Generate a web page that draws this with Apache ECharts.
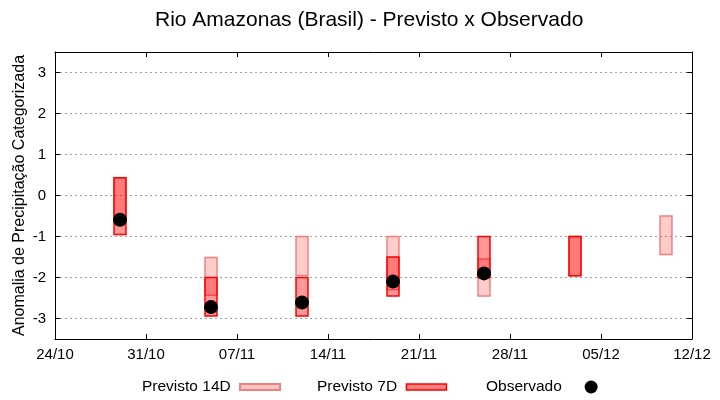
<!DOCTYPE html>
<html><head><meta charset="utf-8">
<script src="https://cdn.jsdelivr.net/npm/echarts@6/dist/echarts.min.js"></script>
<style>html,body{margin:0;padding:0;background:#fff}#c{width:720px;height:400px}</style>
</head><body><div id="c"></div>
<script>
const xTickLabels = ['24/10','31/10','07/11','14/11','21/11','28/11','05/12','12/12'];
const dates14 = ['29/10','05/11','12/11','19/11','26/11','03/12','10/12'];
const low14  = [-0.65, -2.43, -1.95, -2.30, -2.45, -1.96, -1.44];
const high14 = [ 0.43, -1.51, -1.00, -1.00, -1.55, -1.00, -0.50];
const dates7 = ['29/10','05/11','12/11','19/11','26/11','03/12'];
const low7   = [-0.95, -2.94, -2.94, -2.45, -2.00, -1.96];
const high7  = [ 0.43, -2.00, -2.00, -1.50, -1.00, -1.00];
const datesObs = ['29/10','05/11','12/11','19/11','26/11'];
const obs      = [-0.59, -2.72, -2.61, -2.10, -1.90];

const FONT = 'Liberation Sans, Arial, sans-serif';
function dayOf(s){
  const [d,m] = s.split('/').map(Number);
  return Math.round((Date.UTC(2023, m-1, d) - Date.UTC(2023, 9, 24)) / 86400000);
}
function boxRender(fill, stroke){
  return function(params, api){
    const x = api.value(0), lo = api.value(1), hi = api.value(2);
    const p1 = api.coord([x, hi]);
    const p2 = api.coord([x, lo]);
    const w = api.size([0.92, 0])[0];
    return {type:'rect', shape:{x:p1[0]-w/2, y:p1[1], width:w, height:p2[1]-p1[1]},
            style:{fill:fill, stroke:stroke, lineWidth:1.5}};
  };
}
const d14 = dates14.map((d,i)=>[dayOf(d), low14[i], high14[i]]);
const d7 = dates7.map((d,i)=>[dayOf(d), low7[i], high7[i]]);
const dObs = datesObs.map((d,i)=>[dayOf(d), obs[i]]);

const axisCommonX = {
  type:'value', min:0, max:49, interval:7,
  axisLine:{show:true, onZero:false, lineStyle:{color:'#000', width:1}},
  axisTick:{show:true, inside:true, length:5, lineStyle:{color:'#000'}},
  splitLine:{show:false}
};
const axisCommonY = {
  type:'value', min:-3.5, max:3.5, splitNumber:7,
  axisLine:{show:true, onZero:false, lineStyle:{color:'#000', width:1}},
  axisTick:{show:true, inside:true, length:5, lineStyle:{color:'#000'}}
};
const legendCommon = {
  top:374, orient:'horizontal', align:'right', selectedMode:false,
  itemWidth:40, itemHeight:6, formatter: n => n + ' ',
  textStyle:{fontSize:15.5, color:'#000', fontFamily:FONT}
};
const chart = echarts.init(document.getElementById('c'), null, {renderer:'canvas'});
chart.setOption({
  animation:false,
  backgroundColor:'#fff',
  title:{text:'Rio Amazonas (Brasil) - Previsto x Observado', left:150, top:5,
    textStyle:{fontSize:21, fontWeight:'normal', color:'#000', fontFamily:FONT}},
  grid:{left:55, right:28, top:52, bottom:61},
  xAxis:[
    Object.assign({}, axisCommonX, {position:'bottom',
      axisLabel:{formatter:v=>xTickLabels[Math.round(v/7)], color:'#000', fontSize:15, margin:8, fontFamily:FONT}}),
    Object.assign({}, axisCommonX, {position:'top', axisLabel:{show:false}})
  ],
  yAxis:[
    Object.assign({}, axisCommonY, {position:'left',
      name:'Anomalia de Precipitação Categorizada', nameLocation:'middle', nameGap:27,
      nameMoveOverlap:false,
      nameTextStyle:{fontSize:16, color:'#000', fontFamily:FONT},
      axisLabel:{showMinLabel:false, showMaxLabel:false, color:'#000', fontSize:15, margin:9, fontFamily:FONT},
      splitLine:{show:true, lineStyle:{color:'#a0a0a0', width:1, type:[2,3]}}}),
    Object.assign({}, axisCommonY, {position:'right', axisLabel:{show:false}, splitLine:{show:false}})
  ],
  legend:[
    Object.assign({}, legendCommon, {left:137, data:[{name:'Previsto 14D', icon:'rect'}]}),
    Object.assign({}, legendCommon, {left:312, data:[{name:'Previsto 7D', icon:'rect', itemStyle:{color:'#ff8080', borderColor:'#ff0000', borderWidth:1.5}}]}),
    Object.assign({}, legendCommon, {left:481, itemHeight:13, data:[{name:'Observado', icon:'circle'}]})
  ],
  series:[
    {name:'Previsto 14D', type:'custom', renderItem:boxRender('rgba(255,0,0,0.2)','#f08080'),
     itemStyle:{color:'#ffc4c4', borderColor:'#f08080', borderWidth:1.5},
     encode:{x:0, y:[1,2]}, data:d14, z:2},
    {name:'Previsto 7D', type:'custom', renderItem:boxRender('rgba(255,0,0,0.4)','#ff0000'),
     itemStyle:{color:'#ff8080', borderColor:'#ff0000', borderWidth:1.5},
     encode:{x:0, y:[1,2]}, data:d7, z:3},
    {name:'Observado', type:'scatter', symbol:'circle', symbolSize:14,
     itemStyle:{color:'#000', opacity:1}, data:dObs, z:5}
  ]
});
</script></body></html>
